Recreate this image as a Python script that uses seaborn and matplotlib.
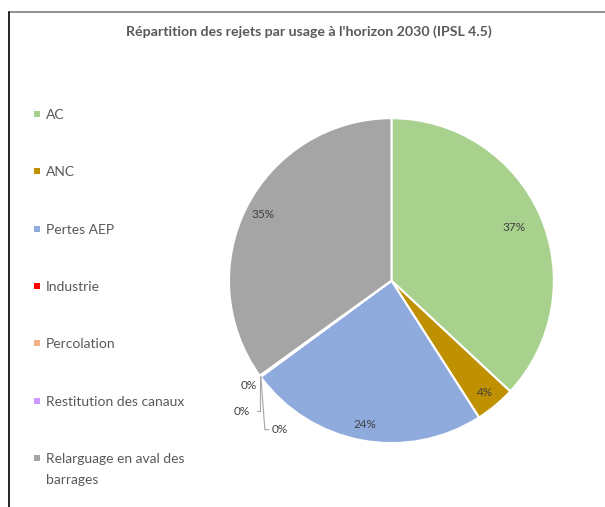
import matplotlib
matplotlib.use("Agg")
import matplotlib.pyplot as plt
import seaborn as sns
import numpy as np
from matplotlib.lines import Line2D
from matplotlib.patches import Rectangle

sns.set_style("white")
plt.rcParams['font.family'] = ['Lato', 'DejaVu Sans']

# Data
categories = ['AC', 'ANC', 'Pertes AEP', 'Industrie', 'Percolation',
              'Restitution des canaux', 'Relarguage en aval des\nbarrages']
values = [37, 4, 24, 0.05, 0.05, 0.05, 35]
pct_labels = ['37%', '4%', '24%', '0%', '0%', '0%', '35%']
colors = ['#A9D18E', '#BF9000', '#8FAADC', '#FF0000', '#F4B183', '#CC99FF', '#A5A5A5']

text_col = '#595959'
W, H = 605, 507

fig = plt.figure(figsize=(6.05, 5.07), dpi=100)
ax = fig.add_axes([0.3785, 0.125, 0.537, 0.643])

wedges, _ = ax.pie(values, colors=colors, startangle=90, counterclock=False,
                   wedgeprops=dict(edgecolor='white', linewidth=1.5))
ax.set_aspect('equal')
ax.set_xlim(-1, 1)
ax.set_ylim(-1, 1)

# percentage labels for the main slices
label_dist = {0: 0.82, 1: 0.9, 2: 0.9, 6: 0.89}
for i, w in enumerate(wedges):
    theta = np.deg2rad((w.theta1 + w.theta2) / 2)
    if i in label_dist:
        r = label_dist[i]
        ax.text(r * np.cos(theta), r * np.sin(theta), pct_labels[i],
                ha='center', va='center', fontsize=8.5, color='#404040')

# small slices: labels outside with leader lines
theta = np.deg2rad(wedges[4].theta1)
ex, ey = np.cos(theta), np.sin(theta)
ax.text(ex - 0.07, ey - 0.06, pct_labels[3], ha='center', va='center',
        fontsize=8.5, color='#404040')
ax.plot([ex, ex, ex - 0.02], [ey, ey - 0.215, ey - 0.215], color='#A6A6A6', lw=0.8,
        clip_on=False)
ax.text(ex - 0.11, ey - 0.215, pct_labels[4], ha='center', va='center',
        fontsize=8.5, color='#404040')
ax.plot([ex + 0.005, ex + 0.03, ex + 0.055], [ey, ey - 0.33, ey - 0.33], color='#A6A6A6',
        lw=0.8, clip_on=False)
ax.text(ex + 0.12, ey - 0.33, pct_labels[5], ha='center', va='center',
        fontsize=8.5, color='#404040')

# legend, drawn entry by entry to match the wide spacing
for i, (cat, c) in enumerate(zip(categories, colors)):
    y = 114 + 57.3 * i
    fig.add_artist(Rectangle((34 / W, 1 - (y + 3) / H), 6 / W, 6 / H,
                             facecolor=c, edgecolor='none'))
    fig.text(46 / W, 1 - (y - 5) / H, cat, ha='left', va='top', fontsize=10,
             color=text_col, linespacing=1.9)

fig.text(0.51, 0.937, "Répartition des rejets par usage à l'horizon 2030 (IPSL 4.5)",
         ha='center', va='center', fontsize=10.2, fontweight='bold', color=text_col)

# chart frame (partially visible)
fig.add_artist(Line2D([0.015, 1.0], [0.977, 0.977], color='#7F7F7F', lw=1.2))
fig.add_artist(Line2D([0.015, 0.015], [0.0, 0.977], color='black', lw=1.2))

fig.savefig('out.png', dpi=100)
